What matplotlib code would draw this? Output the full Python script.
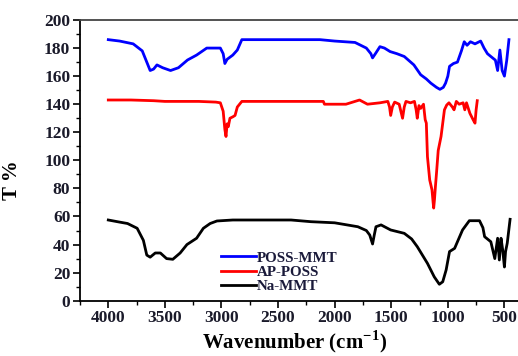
import matplotlib
matplotlib.use("Agg")
import matplotlib.pyplot as plt
from matplotlib.ticker import MultipleLocator

# wavenumber / transmittance values
poss_mmt_x = [4000, 3900, 3780, 3700, 3660, 3630, 3600, 3570, 3520, 3450, 3380, 3300, 3220, 3130,
              3010, 2985, 2970, 2950, 2900, 2860, 2820, 2500, 2130, 2000, 1820, 1720, 1680, 1665,
              1640, 1600, 1560, 1510, 1450, 1385, 1300, 1240, 1190, 1150, 1100, 1070, 1040, 1020,
              1000, 985, 950, 915, 880, 855, 830, 800, 760, 710, 680, 650, 620, 580, 560, 540,
              520, 500, 480, 460]
poss_mmt_y = [186, 185, 183, 178, 170, 164, 165, 168, 166, 164, 166, 171.5, 175, 180,
              180, 176, 169, 172, 175, 178.6, 186, 186, 186, 185, 184, 180, 176, 173,
              176, 181, 180, 177.5, 176, 174, 168, 161, 158, 155, 152, 150.6, 152, 155,
              160, 167, 169, 170, 178, 184.5, 182, 184.5, 183, 185, 180, 176, 174, 171.4, 164, 178.6,
              164, 160, 171, 186]

ap_poss_x = [4000, 3800, 3600, 3500, 3200, 3050, 3010, 2985, 2970, 2960, 2950, 2940, 2925, 2900,
             2880, 2860, 2820, 2500, 2100, 2090, 1900, 1780, 1710, 1600, 1530, 1515, 1505, 1490,
             1470, 1430, 1400, 1385, 1370, 1330, 1295, 1280, 1270, 1255, 1240, 1215, 1200, 1190,
             1180, 1160, 1140, 1130, 1125, 1118, 1110, 1100, 1085, 1060, 1030, 1010, 990, 960,
             945, 925, 900, 865, 850, 835, 805, 775, 760, 750, 740]
ap_poss_y = [143, 143, 142.5, 142, 142, 141.5, 141, 135, 122, 117, 126, 124, 130, 131,
             132, 138, 142, 142, 142, 140, 140, 143, 140, 141, 142, 138, 132, 138,
             141.5, 140, 130, 138, 142, 141, 142, 136, 130, 139, 137, 140, 129, 126.5,
             102.6, 86, 79, 70, 66, 72, 81, 91, 107, 117, 136, 139.4, 141, 138,
             136, 142, 140, 141, 136, 141, 133.5, 128.7, 126.5, 136, 142.5]

na_mmt_x = [4000, 3900, 3830, 3745, 3690, 3660, 3630, 3585, 3540, 3485, 3430, 3365, 3305, 3220,
            3160, 3100, 3040, 2900, 2500, 2385, 2210, 2000, 1795, 1720, 1690, 1665, 1650, 1635,
            1590, 1505, 1385, 1320, 1270, 1180, 1120, 1075, 1045, 1015, 985, 940, 915, 870,
            810, 720, 690, 675, 620, 585, 560, 545, 530, 515, 500, 490, 475, 450]
na_mmt_y = [57.5, 56, 55, 51.6, 43, 32.5, 31, 34, 34, 30, 29.5, 34, 40, 44.5,
            51.6, 55, 56.8, 57.5, 57.5, 57.5, 56.3, 55.5, 52.7, 50, 46.8, 40.4, 46.8, 52.7,
            54, 50.4, 48, 44, 38.5, 26.6, 17, 11.7, 13.5, 21.9, 35, 37.3, 42, 50.4,
            57, 57, 52, 45.6, 42, 30, 44.5, 29, 44.5, 36, 24, 35, 41, 58]

plt.rcParams['font.family'] = ['Liberation Serif', 'DejaVu Serif']
plt.rcParams['font.weight'] = 'bold'
plt.rcParams['mathtext.fontset'] = 'custom'
plt.rcParams['mathtext.rm'] = 'Liberation Serif:bold'
plt.rcParams['mathtext.bf'] = 'Liberation Serif:bold'

fig = plt.figure(figsize=(5.18, 3.56), dpi=100)
ax = fig.add_axes([80 / 518, 55.3 / 356, 438 / 518, 280.7 / 356])

ax.plot(poss_mmt_x, poss_mmt_y, color='#0000ff', lw=2, label='POSS-MMT')
ax.plot(ap_poss_x, ap_poss_y, color='#ff0000', lw=2, label='AP-POSS')
ax.plot(na_mmt_x, na_mmt_y, color='black', lw=2, label='Na-MMT')

ax.set_xlim(4250, 380)
ax.set_ylim(0, 200)
ax.xaxis.set_major_locator(MultipleLocator(500))
ax.xaxis.set_minor_locator(MultipleLocator(250))
ax.yaxis.set_major_locator(MultipleLocator(20))
ax.yaxis.set_minor_locator(MultipleLocator(10))
ax.tick_params(which='major', direction='out', length=5, width=1.2, labelsize=12.5, pad=2,
               labelcolor='#1a1a2a')
ax.tick_params(which='minor', direction='out', length=3, width=1)
for lab in ax.get_xticklabels() + ax.get_yticklabels():
    lab.set_fontweight('bold')

ax.spines['right'].set_visible(False)
for s in ['left', 'bottom', 'top']:
    ax.spines[s].set_linewidth(1.3)
ax.spines['top'].set_color('#444444')

ax.set_ylabel('T %', fontsize=15, fontweight='bold')
ax.yaxis.set_label_coords(-0.132, 0.43)
ax.set_xlabel('Wavenumber (cm$^{\\mathbf{-1}}$)', fontsize=15, fontweight='bold')
ax.xaxis.set_label_coords(0.49, -0.1)

leg = ax.legend(loc='lower left', bbox_to_anchor=(0.298, -0.01), frameon=False,
                fontsize=10.8, handlelength=2.3, handletextpad=0.1, labelspacing=0.05,
                borderpad=0.2)
for t in leg.get_texts():
    t.set_fontweight('bold')
    t.set_color('#1a1a3a')

fig.savefig('out.png', dpi=100)
